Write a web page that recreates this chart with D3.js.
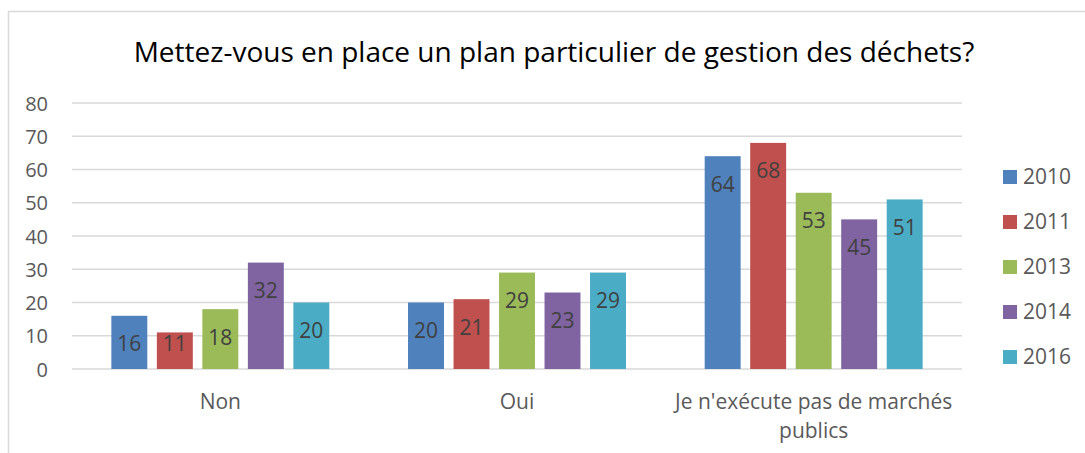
<!DOCTYPE html>
<html><head><meta charset="utf-8">
<script src="https://cdn.jsdelivr.net/npm/d3@7"></script>
<style>body{margin:0;background:#fff;} svg{display:block;}</style>
</head><body>
<script>
const categories = ["Non", "Oui", "Je n'exécute pas de marchés publics"];
const categoryLines = [["Non"], ["Oui"], ["Je n'exécute pas de marchés", "publics"]];
const seriesNames = ["2010", "2011", "2013", "2014", "2016"];
const seriesColors = ["#4F81BD", "#C0504D", "#9BBB59", "#8064A2", "#4BACC6"];
const values = {
  "2010": [16, 20, 64],
  "2011": [11, 21, 68],
  "2013": [18, 29, 53],
  "2014": [32, 23, 45],
  "2016": [20, 29, 51]
};
const yTicks = [0, 10, 20, 30, 40, 50, 60, 70, 80];
const title = "Mettez-vous en place un plan particulier de gestion des déchets?";

const W = 1085, H = 453;
const font = "'Open Sans', 'Noto Sans', sans-serif";
const svg = d3.select("body").append("svg").attr("width", W).attr("height", H);

// outer border
svg.append("path").attr("d", `M8.5,${H} V11.5 H${W}`).attr("fill", "none").attr("stroke", "#d9d9d9").attr("stroke-width", 1.5);

const m = {left: 72, right: 962, top: 103, bottom: 369};
const x0 = d3.scaleBand().domain(categories).range([m.left, m.right]).paddingInner(0).paddingOuter(0);
const x1 = d3.scaleBand().domain(seriesNames).range([0, x0.bandwidth()]).paddingInner(0.21).paddingOuter(0.865);
const y = d3.scaleLinear().domain([0, 80]).range([m.bottom, m.top]);

// gridlines
svg.append("g").selectAll("line").data(yTicks).join("line")
  .attr("x1", m.left).attr("x2", m.right)
  .attr("y1", d => y(d)).attr("y2", d => y(d))
  .attr("stroke", "#d9d9d9").attr("stroke-width", 1.5);

// y axis labels
const yAxis = d3.axisLeft(y).tickValues(yTicks).tickSize(0).tickPadding(0);
const ya = svg.append("g").attr("transform", `translate(48,0)`).call(yAxis);
ya.select(".domain").remove();
ya.selectAll("text").attr("font-family", font).attr("font-size", 20).attr("fill", "#595959").attr("dy", "0.35em");

// bars
const groups = svg.append("g").selectAll("g").data(categories).join("g")
  .attr("transform", d => `translate(${x0(d)},0)`);
groups.each(function(cat, ci) {
  const g = d3.select(this);
  const data = seriesNames.map((s, si) => ({s, si, v: values[s][ci]}));
  g.selectAll("rect").data(data).join("rect")
    .attr("x", d => x1(d.s)).attr("width", x1.bandwidth())
    .attr("y", d => y(d.v)).attr("height", d => y(0) - y(d.v))
    .attr("fill", d => seriesColors[d.si]);
  g.selectAll("text").data(data).join("text")
    .attr("x", d => x1(d.s) + x1.bandwidth() / 2)
    .attr("y", d => Math.min(y(d.v) + 28, y(0) - 25))
    .attr("dy", "0.35em")
    .attr("text-anchor", "middle")
    .attr("font-family", font).attr("font-size", 21).attr("fill", "#404040")
    .text(d => d.v);
});

// x labels
categories.forEach((c, ci) => {
  const t = svg.append("text").attr("text-anchor", "middle")
    .attr("font-family", font).attr("font-size", 21).attr("fill", "#595959");
  categoryLines[ci].forEach((line, li) => {
    t.append("tspan").attr("x", x0(c) + x0.bandwidth() / 2).attr("y", 402 + li * 29).attr("dy", "0.35em").text(line);
  });
});

// title
svg.append("text").attr("x", 554).attr("y", 52).attr("dy", "0.35em").attr("text-anchor", "middle")
  .attr("font-family", font).attr("font-size", 28).attr("fill", "#000").text(title);

// legend
const lg = svg.append("g").selectAll("g").data(seriesNames).join("g")
  .attr("transform", (d, i) => `translate(1003,${177 + i * 45})`);
lg.append("rect").attr("x", 0).attr("y", -7).attr("width", 14).attr("height", 14).attr("fill", (d, i) => seriesColors[i]);
lg.append("text").attr("x", 20).attr("dy", "0.35em").attr("font-family", font).attr("font-size", 21).attr("fill", "#595959").text(d => d);
</script>
</body></html>
